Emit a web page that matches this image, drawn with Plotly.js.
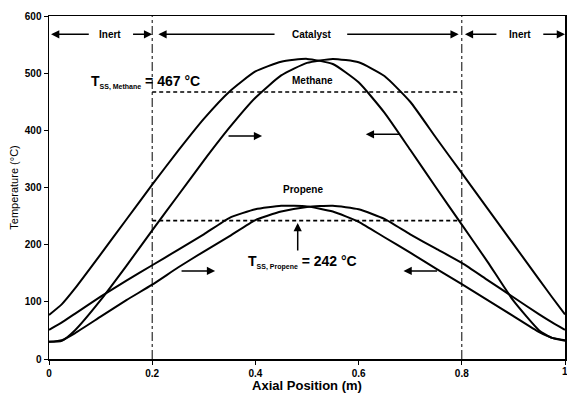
<!DOCTYPE html>
<html>
<head>
<meta charset="utf-8">
<script src="https://cdn.plot.ly/plotly-3.0.1.min.js"></script>
<style>html,body{margin:0;padding:0;background:#fff;}#chart{width:567px;height:397px;}</style>
</head>
<body>
<div id="chart"></div>
<script>
// Axial positions (m)
const position = [0,0.025,0.05,0.1,0.15,0.2,0.25,0.3,0.35,0.4,0.45,0.5,0.55,0.6,0.65,0.7,0.75,0.8,0.85,0.9,0.95,0.975,1];
// Methane profiles (°C)
const methaneLeft  = [77,96,123,183,244,305,364,420,468,503,520,525,516,484,431,366,300,235,170,102,50,37,32];
const methaneRight = [30,32,50,103,163,225,286,347,405,457,496,518,525,519,495,450,387,325,263,201,139,108,78];
// Propene profiles (°C)
const propeneLeft  = [51,64,79,109,137,164,191,218,247,262,268,267,258,240,213,186,158,131,103,75,47,37,33];
const propeneRight = [30,33,45,74,103,130,160,188,215,243,258,266,268,262,245,218,193,168,138,108,78,64,51];
// Steady-state temperatures
const tssPosition = [0.2, 0.8];
const tssMethane = [467, 467];
const tssPropene = [242, 242];
// Zone boundaries
const zoneBounds = [0.2, 0.8];
const xTicks = [0,0.2,0.4,0.6,0.8,1];
const xTickText = ['0','0.2','0.4','0.6','0.8','1'];

const curveLine = {color:'#000', width:2, shape:'spline', smoothing:0.5};
const traces = [
  {x:position, y:methaneLeft, mode:'lines', line:curveLine, hoverinfo:'skip'},
  {x:position, y:methaneRight, mode:'lines', line:curveLine, hoverinfo:'skip'},
  {x:position, y:propeneLeft, mode:'lines', line:curveLine, hoverinfo:'skip'},
  {x:position, y:propeneRight, mode:'lines', line:curveLine, hoverinfo:'skip'},
  {x:tssPosition, y:tssMethane, mode:'lines', line:{color:'#000', width:1.6, dash:'4px,3px'}, hoverinfo:'skip'},
  {x:tssPosition, y:tssPropene, mode:'lines', line:{color:'#000', width:1.6, dash:'4px,3px'}, hoverinfo:'skip'}
];

const bf = {family:'Liberation Sans, Arial, sans-serif', color:'#000', weight:'bold'};
function txt(x, y, t, size, anchor) {
  return {x:x, y:y, xref:'x', yref:'y', text:t, showarrow:false, font:Object.assign({}, bf, {size:size}), xanchor:anchor||'center', yanchor:'middle'};
}
function arr(x, y, ax, ay) {
  return {x:x, y:y, ax:ax, ay:ay, xref:'x', yref:'y', axref:'x', ayref:'y', text:'', showarrow:true,
          arrowhead:2, arrowsize:1.1, arrowwidth:1.5, arrowcolor:'#000'};
}

const annotations = [
  txt(0.118, 568, 'Inert', 10),
  txt(0.51, 568, 'Catalyst', 10),
  txt(0.913, 568, 'Inert', 10),
  arr(0.004, 568, 0.08, 568), arr(0.2, 568, 0.16, 568),
  arr(0.212, 568, 0.44, 568), arr(0.794, 568, 0.575, 568),
  arr(0.806, 568, 0.87, 568), arr(1.0, 568, 0.955, 568),
  txt(0.51, 488, 'Methane', 10),
  txt(0.493, 296, 'Propene', 10),
  txt(0.078, 484, 'T<sub><span style="font-size:7px">SS, Methane</span></sub> = 467 °C', 14, 'left'),
  txt(0.382, 170, 'T<sub><span style="font-size:7px">SS, Propene</span></sub> = 242 °C', 14, 'left'),
  arr(0.413, 390, 0.345, 390),
  arr(0.614, 393, 0.682, 393),
  arr(0.322, 154, 0.254, 154),
  arr(0.687, 154, 0.755, 154),
  arr(0.482, 238, 0.482, 187),
  {x:1, y:0, xref:'x', yref:'paper', text:'1', showarrow:false, font:Object.assign({}, bf, {size:10}),
   xanchor:'center', yanchor:'top', yshift:-5}
];

const shapes = zoneBounds.map(b => ({type:'line', xref:'x', yref:'y', x0:b, x1:b, y0:0, y1:600,
  line:{color:'#000', width:1, dash:'dashdot'}}));

const layout = {
  width:567, height:397,
  margin:{l:49, r:2, t:16, b:38},
  paper_bgcolor:'#fff', plot_bgcolor:'#fff',
  showlegend:false,
  xaxis:{range:[0,1], tickvals:xTicks, ticktext:xTickText, showgrid:false, zeroline:false,
         showline:true, mirror:true, linecolor:'#000', linewidth:1.5, ticks:'outside', ticklen:4, tickcolor:'#000',
         tickfont:Object.assign({}, bf, {size:10}),
         title:{text:'Axial Position (m)', font:Object.assign({}, bf, {size:13}), standoff:2}},
  yaxis:{range:[0,600], dtick:100, showgrid:false, zeroline:false,
         showline:true, mirror:true, linecolor:'#000', linewidth:1.5, ticks:'outside', ticklen:4, tickcolor:'#000',
         tickfont:Object.assign({}, bf, {size:10}),
         title:{text:'Temperature (°C)', font:Object.assign({}, bf, {size:11, weight:'normal'}), standoff:4}},
  annotations:annotations,
  shapes:shapes
};

Plotly.newPlot('chart', traces, layout, {displayModeBar:false, staticPlot:true});
</script>
</body>
</html>
